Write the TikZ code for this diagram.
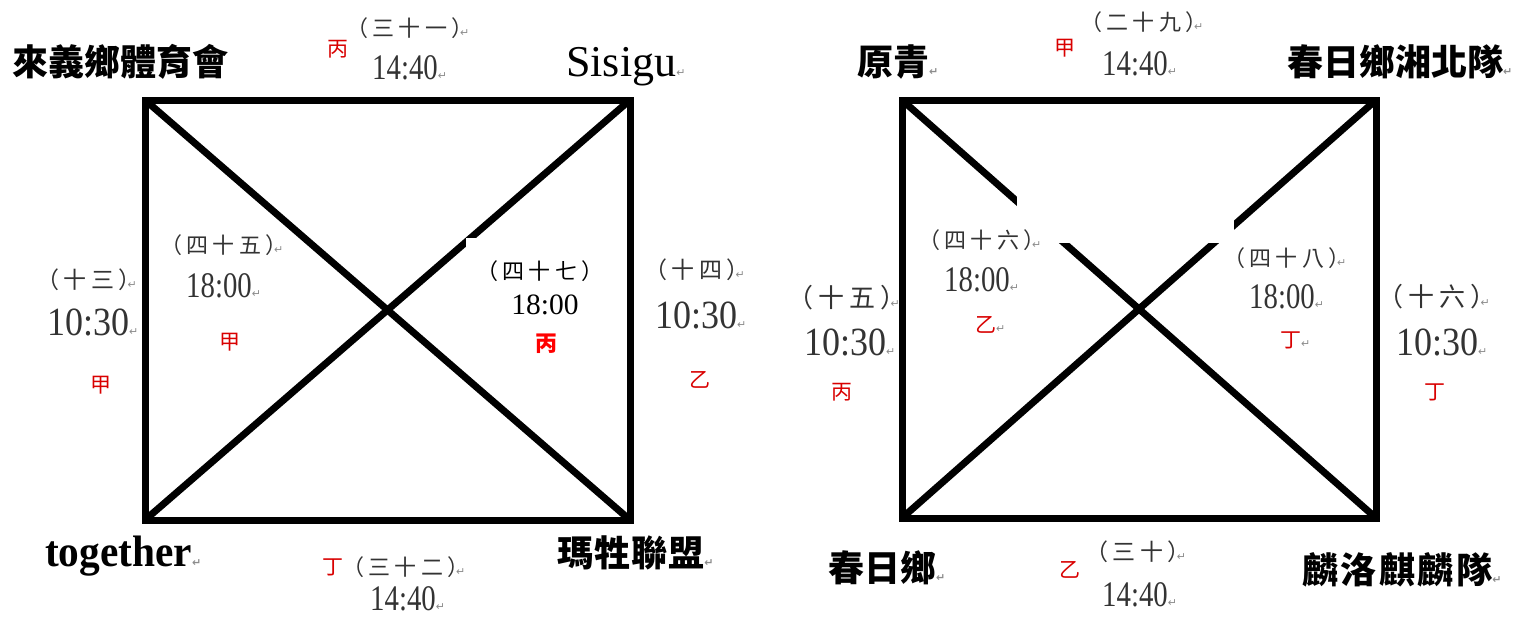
\documentclass[tikz,border=0pt]{standalone}
\usepackage{fontspec}
\setmainfont{Liberation Serif}
\newfontfamily\cjk{Noto Sans CJK TC}
\newfontfamily\cjkp[LetterSpace=20]{Noto Sans CJK TC}
\newfontfamily\symf{DejaVu Sans}
\newfontfamily\numf[FakeStretch=0.8]{Liberation Serif}
\newfontfamily\numw[FakeStretch=0.9]{Liberation Serif}
\newfontfamily\latw[FakeStretch=0.94]{Liberation Serif}
\newcommand\pmark{{\symf\fontsize{11}{11}\selectfont\textcolor{black!45}{↵}}}
\newcommand\ppmark{\kern-0.62em\pmark}
\tikzset{
  boxline/.style={line width=7pt, line join=miter},
  team/.style={inner sep=0pt, anchor=west, font=\cjk\bfseries\fontsize{36}{36}\selectfont},
  latin/.style={inner sep=0pt, anchor=west, font=\fontsize{44}{44}\selectfont},
  paren/.style={inner sep=0pt, anchor=west, text=black!80, font=\cjkp\fontsize{22}{22}\selectfont},
  midparen/.style={paren, font=\cjkp\fontsize{23}{23}\selectfont},
  bigparen/.style={paren, font=\cjkp\fontsize{26}{26}\selectfont},
  clock/.style={inner sep=0pt, anchor=west, text=black!80, font=\numf\fontsize{36}{36}\selectfont},
  bigclock/.style={clock, font=\numw\fontsize{40}{40}\selectfont},
  redmark/.style={inner sep=0pt, text=red!85!black, font=\cjk\fontsize{21}{21}\selectfont},
}
\begin{document}
\begin{tikzpicture}[x=1pt,y=-1pt]
\useasboundingbox[fill=white] (0,0) rectangle (1520,618);
% ---------- left board ----------
\coordinate (L1) at (145,100);
\coordinate (L2) at (630,100);
\coordinate (L3) at (630,520);
\coordinate (L4) at (145,520);
\draw[boxline] (L1) -- (L2) -- (L3) -- (L4) -- cycle;
\draw[boxline] (L1) -- (L3);
\draw[boxline] (L4) -- (L2);
\fill[white] (466,238) rectangle (605,365);
% ---------- right board ----------
\coordinate (R1) at (902,100);
\coordinate (R2) at (1376,100);
\coordinate (R3) at (1376,518);
\coordinate (R4) at (902,518);
\draw[boxline] (R1) -- (R2) -- (R3) -- (R4) -- cycle;
\draw[boxline] (R1) -- (R3);
\draw[boxline] (R4) -- (R2);
\fill[white] (1017,150) rectangle (1234,243);

% ---------- left labels ----------
\node[team] (lA) at (12,62) {來義鄉體育會};
\node[redmark] (lr1) at (338,49) {丙};
\node[paren] (lp1) at (346,28) {（三十一）\ppmark};
\node[clock] (lt1) at (372,68) {14:40\pmark};
\node[latin] (lB) at (566,67) {Sisigu\pmark};
\node[paren] (lp2) at (160,245) {（四十五）\ppmark};
\node[clock] (lt2) at (186,286) {18:00\pmark};
\node[redmark] (lr2) at (230,342) {甲};
\node[midparen] (lp3) at (36,280) {（十三）\ppmark};
\node[bigclock] (lt3) at (47,322) {10:30\pmark};
\node[redmark] (lr3) at (101,385) {甲};
\node[inner sep=0pt, font=\cjkp\fontsize{22}{22}\selectfont] (lp4) at (540,271) {（四十七）};
\node[inner sep=0pt, font=\fontsize{29.5}{29.5}\selectfont] (lt4) at (545,305) {18:00};
\node[redmark, text=red, font=\cjk\bfseries\fontsize{22}{22}\selectfont] (lr4) at (546,344) {丙};
\node[midparen] (lp5) at (644,270) {（十四）\ppmark};
\node[bigclock] (lt5) at (655,315) {10:30\pmark};
\node[redmark] (lr5) at (700,380) {乙};
\node[latin, font=\bfseries\latw\fontsize{44}{44}\selectfont] (lC) at (45,556) {together\pmark};
\node[redmark] (lr6) at (333,567) {丁};
\node[paren] (lp6) at (342,567) {（三十二）\ppmark};
\node[clock] (lt6) at (370,599) {14:40\pmark};
\node[team, font=\cjk\bfseries\fontsize{36}{36}\selectfont\addfontfeature{LetterSpace=3}] (lD) at (557,553) {瑪牲聯盟\pmark};

% ---------- right labels ----------
\node[team] (rA) at (857,62) {原青\pmark};
\node[redmark] (rr1) at (1065,48) {甲};
\node[paren] (rp1) at (1080,22) {（二十九）\ppmark};
\node[clock] (rt1) at (1102,64) {14:40\pmark};
\node[team] (rB) at (1287,62) {春日鄉湘北隊\pmark};
\node[paren] (rp2) at (918,240) {（四十六）\ppmark};
\node[clock] (rt2) at (944,280) {18:00\pmark};
\node[redmark, anchor=west] (rr2) at (975,325) {乙\pmark};
\node[bigparen] (rp3) at (787,298) {（十五）\ppmark};
\node[bigclock] (rt3) at (804,342) {10:30\pmark};
\node[redmark] (rr3) at (842,392) {丙};
\node[paren] (rp4) at (1223,258) {（四十八）\ppmark};
\node[clock] (rt4) at (1249,297) {18:00\pmark};
\node[redmark, anchor=west] (rr4) at (1280,340) {丁\pmark};
\node[bigparen] (rp5) at (1377,297) {（十六）\ppmark};
\node[bigclock] (rt5) at (1396,342) {10:30\pmark};
\node[redmark] (rr5) at (1435,392) {丁};
\node[team] (rC) at (828,568) {春日鄉\pmark};
\node[redmark] (rr6) at (1070,570) {乙};
\node[midparen] (rp6) at (1085,552) {（三十）\ppmark};
\node[clock] (rt6) at (1102,595) {14:40\pmark};
\node[team, font=\cjk\bfseries\fontsize{36}{36}\selectfont\addfontfeature{LetterSpace=7}] (rD) at (1302,570) {麟洛麒麟隊\pmark};
\end{tikzpicture}
\end{document}
